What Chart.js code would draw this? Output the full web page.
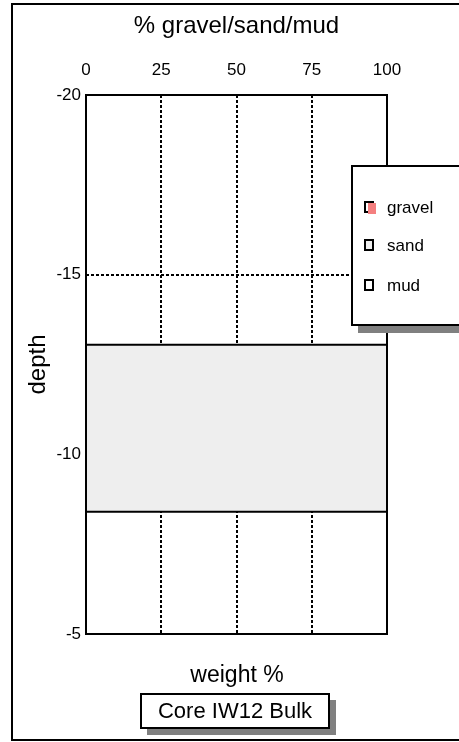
<!DOCTYPE html>
<html>
<head>
<meta charset="utf-8">
<style>
  html, body { margin: 0; padding: 0; background: #ffffff; }
  #c { display: block; }
</style>
<script src="https://cdn.jsdelivr.net/npm/chart.js@4/dist/chart.umd.min.js"></script>
</head>
<body>
<canvas id="c" width="459" height="742"></canvas>
<script>
// ---- data ----
const seriesNames = ['gravel', 'sand', 'mud'];
const depthTop = [-13.05];      // sample top depth
const depthBottom = [-8.4];     // sample bottom depth
const gravel = [0];
const sand = [100];
const mud = [0];
const xTicks = [0, 25, 50, 75, 100];
const yTicks = [-20, -15, -10, -5];
const coreLabel = 'Core IW12 Bulk';
const xTitle = '% gravel/sand/mud';
const yTitle = 'depth';
const bottomTitle = 'weight %';

// ---- styles ----
const FONT = '"Liberation Sans", Arial, sans-serif';
const seriesColors = ['#f47f7f', '#eeeeee', '#ffffff'];

// build one closed rectangle polygon per series per sample
const seriesValues = [gravel, sand, mud];
const datasets = seriesNames.map((name, s) => {
  const pts = [];
  for (let i = 0; i < depthTop.length; i++) {
    let start = 0;
    for (let k = 0; k < s; k++) start += seriesValues[k][i];
    const end = start + seriesValues[s][i];
    if (end > start) {
      pts.push({x: start, y: depthTop[i]}, {x: end, y: depthTop[i]},
               {x: end, y: depthBottom[i]}, {x: start, y: depthBottom[i]},
               {x: start, y: depthTop[i]});
    }
  }
  return {
    label: name,
    data: pts,
    backgroundColor: seriesColors[s],
    borderColor: '#000000',
    borderWidth: 2,
    pointRadius: 0,
    fill: 'shape',
    tension: 0
  };
});

const decor = {
  id: 'decor',
  afterDatasetsDraw(chart) {
    const {ctx, chartArea: a} = chart;
    ctx.save();
    ctx.strokeStyle = '#000';
    ctx.lineWidth = 2;
    ctx.strokeRect(a.left, a.top, a.right - a.left, a.bottom - a.top);
    ctx.restore();
  },
  afterDraw(chart) {
    const {ctx} = chart;
    ctx.save();
    // outer frame
    ctx.strokeStyle = '#000';
    ctx.lineWidth = 2;
    ctx.strokeRect(12, 4, 470, 736);

    // legend box with shadow
    ctx.fillStyle = '#808080';
    ctx.fillRect(358, 172, 120, 161);
    ctx.fillStyle = '#ffffff';
    ctx.fillRect(352, 166, 120, 159);
    ctx.strokeStyle = '#000';
    ctx.lineWidth = 2;
    ctx.strokeRect(352, 166, 120, 159);
    const itemY = [208, 246, 286];
    chart.data.datasets.forEach((ds, i) => {
      const y = itemY[i];
      ctx.lineWidth = 2;
      ctx.strokeStyle = '#000';
      ctx.fillStyle = ds.backgroundColor;
      if (i === 0) {
        ctx.strokeRect(365, y - 6, 8, 10);
        ctx.fillRect(368, y - 5, 8, 11);
      } else {
        ctx.fillRect(365, y - 6, 8, 10);
        ctx.strokeRect(365, y - 6, 8, 10);
      }
      ctx.fillStyle = '#000';
      ctx.font = '17px ' + FONT;
      ctx.textAlign = 'left';
      ctx.textBaseline = 'middle';
      ctx.fillText(ds.label, 387, y);
    });

    // bottom title
    ctx.fillStyle = '#000';
    ctx.font = '23px ' + FONT;
    ctx.textAlign = 'center';
    ctx.textBaseline = 'middle';
    ctx.fillText(bottomTitle, 237, 676);

    // core label box with shadow
    ctx.fillStyle = '#808080';
    ctx.fillRect(147, 700, 189, 35);
    ctx.fillStyle = '#ffffff';
    ctx.fillRect(141, 694, 188, 34);
    ctx.strokeStyle = '#000';
    ctx.lineWidth = 2;
    ctx.strokeRect(141, 694, 188, 34);
    ctx.fillStyle = '#000';
    ctx.font = '22px ' + FONT;
    ctx.fillText(coreLabel, 235, 712);
    ctx.restore();
  }
};

new Chart(document.getElementById('c'), {
  type: 'line',
  data: { datasets },
  options: {
    responsive: false,
    animation: false,
    devicePixelRatio: 1,
    layout: { padding: { left: 0, top: 0, right: 72, bottom: 108 } },
    plugins: { legend: { display: false }, tooltip: { enabled: false } },
    scales: {
      x: {
        type: 'linear',
        position: 'top',
        min: xTicks[0],
        max: xTicks[xTicks.length - 1],
        afterBuildTicks: s => { s.ticks = xTicks.map(v => ({value: v})); },
        afterFit: s => { s.height = 95; },
        ticks: { color: '#000', font: { family: FONT, size: 17 }, padding: 14, maxRotation: 0 },
        grid: { color: '#000', lineWidth: 2, drawTicks: false },
        border: { display: false, dash: [3, 2] },
        title: { display: true, text: xTitle, color: '#000',
                 font: { family: FONT, size: 24 }, padding: { top: 12, bottom: 0 } }
      },
      y: {
        type: 'linear',
        position: 'left',
        reverse: true,
        min: yTicks[0],
        max: yTicks[yTicks.length - 1],
        afterBuildTicks: s => { s.ticks = yTicks.map(v => ({value: v})); },
        afterFit: s => { s.width = 86; },
        ticks: { color: '#000', font: { family: FONT, size: 17 }, padding: 5 },
        grid: { color: '#000', lineWidth: 2, drawTicks: false },
        border: { display: false, dash: [3, 2] },
        title: { display: true, text: yTitle, color: '#000',
                 font: { family: FONT, size: 24 }, padding: { top: 24, bottom: 0 } }
      }
    }
  },
  plugins: [decor]
});
</script>
</body>
</html>
